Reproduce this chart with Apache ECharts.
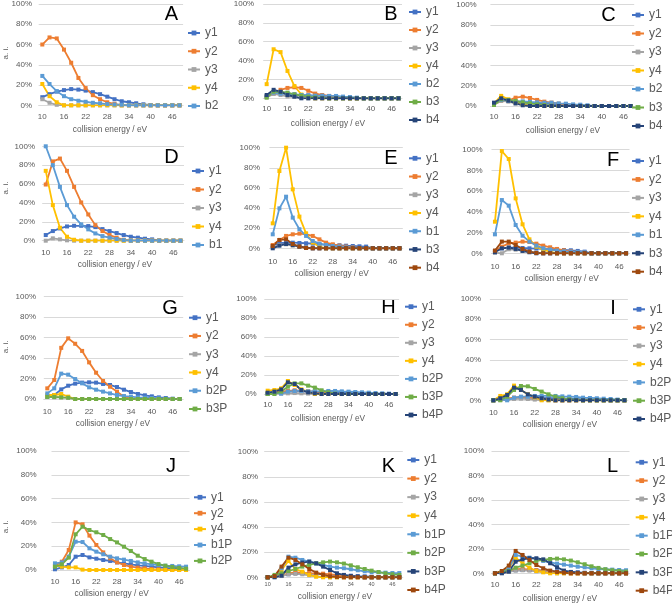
<!DOCTYPE html>
<html><head><meta charset="utf-8">
<script src="https://cdn.jsdelivr.net/npm/echarts@6/dist/echarts.min.js"></script>
<style>html,body{margin:0;padding:0;background:#fff}#c{width:672px;height:603px}</style>
</head><body><div id="c"></div>
<script>
// ---------- DATA ----------
const categories = ['10','12','14','16','18','20','22','24','26','28','30','32','34','36','38','40','42','44','46','48'];
const yTicks = [0, 20, 40, 60, 80, 100]; // percent
const xTitle = 'collision energy / eV';
const yTitle = 'a. i.';

const A_y1 = [8,11,13.5,15,16,15.5,14.5,13,11,8.5,6,4,3,2,1,0.3,0,0,0,0];
const A_y2 = [60,67,66,55,42,27,17,10,6,3,1.5,0,0,0,0,0,0,0,0,0];
const A_y3 = [6,2.5,0.5,0,0,0,0,0,0,0,0,0,0,0,0,0,0,0,0,0];
const A_y4 = [21,9,3,0,0,0,0,0,0,0,0,0,0,0,0,0,0,0,0,0];
const A_b2 = [29,21,14,9,6,4.5,3.5,2.5,2,1.2,0.8,0.5,0,0,0,0,0,0,0,0];

const B_y1 = [2,6,6.7,5.3,4.2,3.5,3.2,2.8,2.5,2.1,1.8,1,0.7,0,0,0,0,0,0,0];
const B_y2 = [2,5,9,11,11.7,11,8,5,3.5,2.5,1.5,0.7,0,0,0,0,0,0,0,0];
const B_y3 = [1,4.6,3.5,2,1.4,0.7,0,0,0,0,0,0,0,0,0,0,0,0,0,0];
const B_y4 = [15,52,49,29,13,4,1,0,0,0,0,0,0,0,0,0,0,0,0,0];
const B_b2 = [2,6,5,4.6,3.9,3.5,3,2.8,2.8,2.5,2.5,1.8,1.4,0.7,0,0,0,0,0,0];
const B_b3 = [0.7,7,6.7,6,4.2,2.8,1.8,1,0.4,0,0,0,0,0,0,0,0,0,0,0];
const B_b4 = [3.5,9,7,3.5,1.8,0,0,0,0,0,0,0,0,0,0,0,0,0,0,0];

const C_y1 = [2,6,5,4,3.3,3,2.6,2.3,2,1.6,1.3,0.7,0.3,0,0,0,0,0,0,0];
const C_y2 = [1.6,5,5.3,8.2,9.2,7.9,6,4.3,3.3,2.3,1.6,1,0.3,0,0,0,0,0,0,0];
const C_y3 = [1.6,5,4.3,2.6,1.6,1,0,0,0,0,0,0,0,0,0,0,0,0,0,0];
const C_y4 = [2.6,10,6.6,3.6,1.3,0.3,0,0,0,0,0,0,0,0,0,0,0,0,0,0];
const C_b2 = [2,6,5.3,4.6,4.6,4,3.6,3.3,3.3,2.6,2.3,1.6,1.3,0.7,0,0,0,0,0,0];
const C_b3 = [1,6.6,6,5,3.6,2.6,1.6,1,0.3,0,0,0,0,0,0,0,0,0,0,0];
const C_b4 = [3.3,7.6,5.3,2.6,0.7,0,0,0,0,0,0,0,0,0,0,0,0,0,0,0];

const D_y1 = [6,10.2,13,15.1,15.8,15.8,15.5,14.4,12.3,10.2,8.1,6,4.2,3.2,2.1,1.4,0.4,0,0,0];
const D_y2 = [59.5,84,87,74,57,40.5,27.8,16.5,10.2,6,3.2,1,0,0,0,0,0,0,0,0];
const D_y3 = [0,2.5,1.4,0.4,0,0,0,0,0,0,0,0,0,0,0,0,0,0,0,0];
const D_y4 = [74,37.7,13.7,4.2,1,0,0,0,0,0,0,0,0,0,0,0,0,0,0,0];
const D_b1 = [100,80,57,37.7,25.4,17.3,12,7.7,4.9,3.2,1.8,0.7,0,0,0,0,0,0,0,0];

const E_y1 = [2.6,5,5.6,5.6,5.3,5,4.6,4,3.6,3.3,3,2.6,2.3,2,1.7,0,0,0,0,0];
const E_y2 = [3.3,8.3,12.3,13.9,14.6,13.9,12.3,8.9,5.6,4,2.6,1.7,1,0.3,0,0,0,0,0,0];
const E_y3 = [1,3.3,4,2.6,1.7,0.7,0,0,0,0,0,0,0,0,0,0,0,0,0,0];
const E_y4 = [24.8,76.8,100,58.6,31.5,14.9,5.6,1.7,0,0,0,0,0,0,0,0,0,0,0,0];
const E_b1 = [13.9,39.7,51.3,30.5,18.9,12.3,7.3,4.6,3.3,2.3,1.7,1,0.7,0.3,0,0,0,0,0,0];
const E_b3 = [0,2.6,4.3,3.3,1.7,0.7,0,0,0,0,0,0,0,0,0,0,0,0,0,0];
const E_b4 = [2.3,8.3,8.9,4.3,1.7,0.3,0,0,0,0,0,0,0,0,0,0,0,0,0,0];

const F_y1 = [2.3,4.8,5.5,5.5,5.1,4.8,4.5,4.2,3.9,3.5,3.2,2.9,2.3,1.6,0,0,0,0,0,0];
const F_y2 = [2.3,6.4,9.6,10.3,11.3,10.9,9.3,7.4,5.8,4.2,2.9,1.9,1.3,0.6,0,0,0,0,0,0];
const F_y3 = [0.6,0,3.9,3.5,2.3,1.3,0.6,0,0,0,0,0,0,0,0,0,0,0,0,0];
const F_y4 = [30.5,98.7,91,53,28,13.5,6.4,3.2,1.6,0,0,0,0,0,0,0,0,0,0,0];
const F_b1 = [18.3,51.4,46,27.3,17,11.3,7.4,4.8,3.5,2.6,1.9,1.6,1.3,1,0,0,0,0,0,0];
const F_b3 = [1,4.8,5.5,4.2,2.3,1,0,0,0,0,0,0,0,0,0,0,0,0,0,0];
const F_b4 = [2.6,11.3,11.3,8,4.2,1.6,0.3,0,0,0,0,0,0,0,0,0,0,0,0,0];

const G_y1 = [2.3,3.9,9.4,13,15,16,16.3,16,14.7,13.7,11.7,9.1,6.8,4.9,3.6,2.6,1.6,1,0.3,0];
const G_y2 = [10.4,18.6,50,59.3,54,47,35.8,25.7,17.6,12,7.2,2.3,0.7,0,0,0,0,0,0,0];
const G_y3 = [2,1.6,1.6,1,0,0,0,0,0,0,0,0,0,0,0,0,0,0,0,0];
const G_y4 = [3.9,3.9,4.9,2.3,0,0,0,0,0,0,0,0,0,0,0,0,0,0,0,0];
const G_b2P = [5.5,10.4,24.8,23.8,19.5,15.3,11.4,9.1,7.2,5.5,3.9,2.9,2.3,1.6,1.3,1,0.7,0.3,0,0];
const G_b3P = [2,2,1.6,1.3,0,0,0,0,0,0,0,0,0,0,0,0,0,0,0,0];

const H_y1 = [0.4,1,1.8,2.5,2.8,2.8,2.5,2.5,2.1,2.1,1.8,1.8,1.4,1,0.7,0.4,0,0,0,0];
const H_y2 = [0.7,1.8,2.5,3.2,3.9,3.5,2.8,2.1,1.4,0.7,0,0,0,0,0,0,0,0,0,0];
const H_y3 = [0,0.4,0.4,0.7,1,0.7,0.4,0,0,0,0,0,0,0,0,0,0,0,0,0];
const H_y4 = [3.5,4.2,6,13.7,9.5,4.9,2.5,0,0,0,0,0,0,0,0,0,0,0,0,0];
const H_b2P = [0.7,1.8,0.4,2.5,3.2,3.2,2.8,2.8,2.8,3.2,3.2,2.8,2.5,2.1,1.8,1.4,1,0.7,0.4,0];
const H_b3P = [0,0,2.5,7.7,11.2,11.2,8.8,6.7,3.9,1.8,0.4,0,0,0,0,0,0,0,0,0];
const H_b4P = [1.4,2.5,4.9,12.3,10.5,4.2,1.8,0.7,0,0,0,0,0,0,0,0,0,0,0,0];

const I_y1 = [0,0.7,1.3,2,2.3,2.3,2.3,2.3,2,2,1.6,1.6,1.3,1,1,0.7,0.3,0,0,0];
const I_y2 = [0,1,1.6,2.6,3.3,3,2,1.3,0.7,0,0,0,0,0,0,0,0,0,0,0];
const I_y3 = [0,0.3,0.7,1.3,1.6,1.3,0.7,0.3,0,0,0,0,0,0,0,0,0,0,0,0];
const I_y4 = [0,4.3,5.9,14.5,10.2,5.9,3,0,0,0,0,0,0,0,0,0,0,0,0,0];
const I_b2P = [0,1,0,2.6,3.6,3.6,4.3,4.3,4.3,4.3,3.9,3.6,3.3,2.6,2.3,2,1.6,1.3,0.7,0.3];
const I_b3P = [0,0,3.6,10.2,14.1,13.8,11.2,8.6,5.9,3.6,2,1,0.3,0,0,0,0,0,0,0];
const I_b4P = [0,2,5.3,12.5,10.2,5.9,3.6,2,0.7,0,0,0,0,0,0,0,0,0,0,0];

const J_y1 = [0.6,2.2,4.2,11.2,12.6,10.6,9.5,8.4,7.6,6.4,5.6,4.8,3.9,3.4,2.8,2.2,1.7,1.4,1.1,0.8];
const J_y2 = [3.6,7,16.8,40,38.4,28.9,21,14.8,9.8,6.4,4.2,2.8,2,1.4,0.8,0.6,0.3,0,0,0];
const J_y4 = [3.6,2.8,2.2,2.2,0.3,0,0,0,0,0,0,0,0,0,0,0,0,0,0,0];
const J_b1P = [5.6,6.4,11.2,23.8,23.5,18.2,15.4,13.2,11.2,9.8,8.7,7.6,6.4,5.6,4.8,4.2,3.6,3.4,3.1,2.8];
const J_b2P = [2.8,4.8,10.4,30,36.4,33.6,31.7,29.4,26,23.2,19.6,16,12,9.2,7,5,3.6,2.5,1.7,1.1];

const K_y1 = [0,0.8,1.3,2.4,3.2,3.2,2.9,2.7,2.4,2.1,1.9,1.6,1.3,1,0.8,0.5,0,0,0,0];
const K_y2 = [0,0.5,1.3,3.2,4,3.7,3.4,3.2,2.9,2.4,1.9,1.3,0.8,0.3,0,0,0,0,0,0];
const K_y3 = [0,0.5,1,2.4,2.7,2.4,1.6,0.8,0.3,0,0,0,0,0,0,0,0,0,0,0];
const K_y4 = [0,1,5.8,13,6.6,4.5,1.9,0.5,0,0,0,0,0,0,0,0,0,0,0,0];
const K_b1P = [0,1,7.2,16.4,15.6,13.8,12.5,11.1,9.8,8.5,7.7,7.2,6.4,5.6,4.8,4.2,4,3.7,3.4,3.4];
const K_b2P = [0,1.9,3.2,5,6.6,8.5,9.8,11.1,11.9,12.5,11.9,10.9,9.5,8,6.6,5.3,4.2,3.2,2.4,1.9];
const K_b3P = [0,0,1.3,7.7,10.3,11.7,12.5,11.1,8.5,5.8,3.2,1.9,1,0.5,0,0,0,0,0,0];
const K_b4P = [0,1,8.5,15.6,13.8,10.3,6.6,3.7,1.9,0.8,0.3,0,0,0,0,0,0,0,0,0];

const L_y1 = [0,0.5,1.4,2.5,2.7,2.7,2.5,2.2,1.9,1.6,1.4,1.1,0.8,0.5,0.3,0,0,0,0,0];
const L_y2 = [0,0.5,1.4,3.3,3.5,3,2.5,1.9,1.4,0.8,0.3,0,0,0,0,0,0,0,0,0];
const L_y3 = [0,0.3,1.1,2.2,2.5,2.2,1.6,1.1,0.5,0,0,0,0,0,0,0,0,0,0,0];
const L_y4 = [0,1.4,4.1,12.8,8.2,4.6,1.9,0.8,0,0,0,0,0,0,0,0,0,0,0,0];
const L_b1P = [0,0.8,4.1,15,13.6,12.8,11.7,10.1,9,7.9,7.1,6.3,5.4,4.9,4.1,3.5,3.3,3,2.7,2.5];
const L_b2P = [0,1.4,1.9,4.6,6.3,8.2,10.1,10.9,11.7,12,11.4,10.4,9,7.4,5.7,4.4,3.3,2.5,1.9,1.4];
const L_b3P = [0,0,1.4,9.5,11.4,12.3,12.3,11.4,8.2,4.9,2.2,1.1,0.5,0,0,0,0,0,0,0];
const L_b4P = [0,1.9,6.3,18.3,15,10.9,6.8,4.1,2.2,1.1,0.5,0,0,0,0,0,0,0,0,0];

// ---------- STYLE / LAYOUT ----------
const COL = {blue:'#4472C4', orange:'#ED7D31', gray:'#A5A5A5', gold:'#FFC000', lblue:'#5B9BD5', green:'#70AD47', navy:'#264478', brown:'#9E480E'};
const TXT = '#595959', GRID = '#D9D9D9', FONT = 'Liberation Sans, Arial, sans-serif';

const panels = [
 {id:'A', s:[['y1',A_y1,COL.blue],['y2',A_y2,COL.orange],['y3',A_y3,COL.gray],['y4',A_y4,COL.gold],['b2',A_b2,COL.lblue]],
  g:[38.7,4,144.4,101.3], ym:6.7, xm:7.5, xf:8, lg:[187,27,6.25], lt:[171.5,14], xt:[110,130], yt:[6,53]},
 {id:'B', s:[['y1',B_y1,COL.blue],['y2',B_y2,COL.orange],['y3',B_y3,COL.gray],['y4',B_y4,COL.gold],['b2',B_b2,COL.lblue],['b3',B_b3,COL.green],['b4',B_b4,COL.navy]],
  g:[263.2,4,138.8,94.3], ym:9, xm:6.7, xf:8, lg:[408,6,6], lt:[391,14], xt:[328,124]},
 {id:'C', s:[['y1',C_y1,COL.blue],['y2',C_y2,COL.orange],['y3',C_y3,COL.gray],['y4',C_y4,COL.gold],['b2',C_b2,COL.lblue],['b3',C_b3,COL.green],['b4',C_b4,COL.navy]],
  g:[490.4,4.7,143.8,101.3], ym:13.7, xm:7, xf:8, lg:[631,9,6.5], lt:[608.5,15], xt:[563,131]},
 {id:'D', s:[['y1',D_y1,COL.blue],['y2',D_y2,COL.orange],['y3',D_y3,COL.gray],['y4',D_y4,COL.gold],['b1',D_b1,COL.lblue]],
  g:[42.2,146.3,141.8,94.4], ym:7.2, xm:8, xf:8, lg:[191,165,6.5], lt:[171.5,157], xt:[115,265], yt:[6,188]},
 {id:'E', s:[['y1',E_y1,COL.blue],['y2',E_y2,COL.orange],['y3',E_y3,COL.gray],['y4',E_y4,COL.gold],['b1',E_b1,COL.lblue],['b3',E_b3,COL.navy],['b4',E_b4,COL.brown]],
  g:[269.4,147.7,133.4,100.6], ym:9.4, xm:9, xf:8, lg:[408,152.3,6.23], lt:[391,158], xt:[331.7,273.3]},
 {id:'F', s:[['y1',F_y1,COL.blue],['y2',F_y2,COL.orange],['y3',F_y3,COL.gray],['y4',F_y4,COL.gold],['b1',F_b1,COL.lblue],['b3',F_b3,COL.navy],['b4',F_b4,COL.brown]],
  g:[491.5,149.7,138,103.6], ym:8.8, xm:9, xf:8, lg:[631,155,6.45], lt:[613,160], xt:[561.7,279]},
 {id:'G', s:[['y1',G_y1,COL.blue],['y2',G_y2,COL.orange],['y3',G_y3,COL.gray],['y4',G_y4,COL.gold],['b2P',G_b2P,COL.lblue],['b3P',G_b3P,COL.green]],
  g:[43.8,296.7,139.4,102.3], ym:7.8, xm:9, xf:8, lg:[188,311.7,6.26], lt:[170,308], xt:[113,424], yt:[6,346.7]},
 {id:'H', s:[['y1',H_y1,COL.blue],['y2',H_y2,COL.orange],['y3',H_y3,COL.gray],['y4',H_y4,COL.gold],['b2P',H_b2P,COL.lblue],['b3P',H_b3P,COL.green],['b4P',H_b4P,COL.navy]],
  g:[264.3,299,134.8,95], ym:7.6, xm:7, xf:8, lg:[404,300.7,6.05], lt:[388.5,307.7], xt:[328,419]},
 {id:'I', s:[['y1',I_y1,COL.blue],['y2',I_y2,COL.orange],['y3',I_y3,COL.gray],['y4',I_y4,COL.gold],['b2P',I_b2P,COL.lblue],['b3P',I_b3P,COL.green],['b4P',I_b4P,COL.navy]],
  g:[489.9,299,138,101.3], ym:8.8, xm:8, xf:8, lg:[632,303.3,6.28], lt:[613,308.5], xt:[560,424.3]},
 {id:'J', s:[['y1',J_y1,COL.blue],['y2',J_y2,COL.orange],['y4',J_y4,COL.gold],['b1P',J_b1P,COL.lblue],['b2P',J_b2P,COL.green]],
  g:[51.5,451,138,119], ym:14.8, xm:7.5, xf:8, lg:[193,491.3,3.9], lt:[171,466.7], xt:[111.7,593.3], yt:[6,526.7]},
 {id:'K', s:[['y1',K_y1,COL.blue],['y2',K_y2,COL.orange],['y3',K_y3,COL.gray],['y4',K_y4,COL.gold],['b1P',K_b1P,COL.lblue],['b2P',K_b2P,COL.green],['b3P',K_b3P,COL.navy],['b4P',K_b4P,COL.brown]],
  g:[264.2,451.7,138.6,125.6], ym:6, xm:4, xf:5.5, lg:[406.3,454,6.57], lt:[388.5,466.7], xt:[335,596.7]},
 {id:'L', s:[['y1',L_y1,COL.blue],['y2',L_y2,COL.orange],['y3',L_y3,COL.gray],['y4',L_y4,COL.gold],['b1P',L_b1P,COL.lblue],['b2P',L_b2P,COL.green],['b3P',L_b3P,COL.navy],['b4P',L_b4P,COL.brown]],
  g:[491.5,451,138,122.3], ym:7.2, xm:7.5, xf:8, lg:[634.7,456.3,6.34], lt:[612.5,466.7], xt:[560,599]}
];

const grid = [], xAxis = [], yAxis = [], series = [], legend = [], graphic = [];
panels.forEach((p, i) => {
  grid.push({left:p.g[0], top:p.g[1], width:p.g[2], height:p.g[3], containLabel:false, outerBoundsMode:'none'});
  xAxis.push({type:'category', gridIndex:i, data:categories, boundaryGap:true,
    axisTick:{show:false}, axisLine:{lineStyle:{color:GRID, width:1}},
    axisLabel:{interval:2, color:TXT, fontSize:p.xf, margin:p.xm, fontFamily:FONT}});
  yAxis.push({type:'value', gridIndex:i, min:yTicks[0], max:yTicks[yTicks.length-1], interval:yTicks[1]-yTicks[0],
    axisLine:{show:false}, axisTick:{show:false},
    splitLine:{lineStyle:{color:GRID, width:1}},
    axisLabel:{formatter:'{value}%', color:TXT, fontSize:8, margin:p.ym, fontFamily:FONT}});
  const names = [];
  p.s.forEach(([n, d, c]) => {
    const full = p.id + '|' + n;
    names.push(full);
    series.push({type:'line', name:full, xAxisIndex:i, yAxisIndex:i, data:d,
      symbol:'rect', symbolSize:4, showSymbol:true,
      lineStyle:{color:c, width:1.8}, itemStyle:{color:c}, animation:false, silent:true});
  });
  legend.push({data:names, orient:'vertical', left:p.lg[0], top:p.lg[1], itemGap:p.lg[2],
    itemWidth:12, itemHeight:6, padding:0, selectedMode:false,
    formatter:(n) => n.split('|')[1],
    textStyle:{color:TXT, fontSize:12, lineHeight:12, fontFamily:FONT}});
  graphic.push({type:'text', x:p.lt[0], y:p.lt[1], style:{text:p.id, fill:'#000', fontSize:20, fontFamily:FONT, align:'center', verticalAlign:'middle'}});
  graphic.push({type:'text', x:p.xt[0], y:p.xt[1], style:{text:xTitle, fill:TXT, fontSize:8.3, fontFamily:FONT, align:'center', verticalAlign:'middle'}});
  if (p.yt) graphic.push({type:'text', x:p.yt[0], y:p.yt[1], rotation:Math.PI/2, style:{text:yTitle, fill:TXT, fontSize:8, fontFamily:FONT, align:'center', verticalAlign:'middle'}});
});

const chart = echarts.init(document.getElementById('c'), null, {renderer:'canvas', width:672, height:603});
chart.setOption({backgroundColor:'#fff', animation:false, grid, xAxis, yAxis, series, legend, graphic});
</script></body></html>
